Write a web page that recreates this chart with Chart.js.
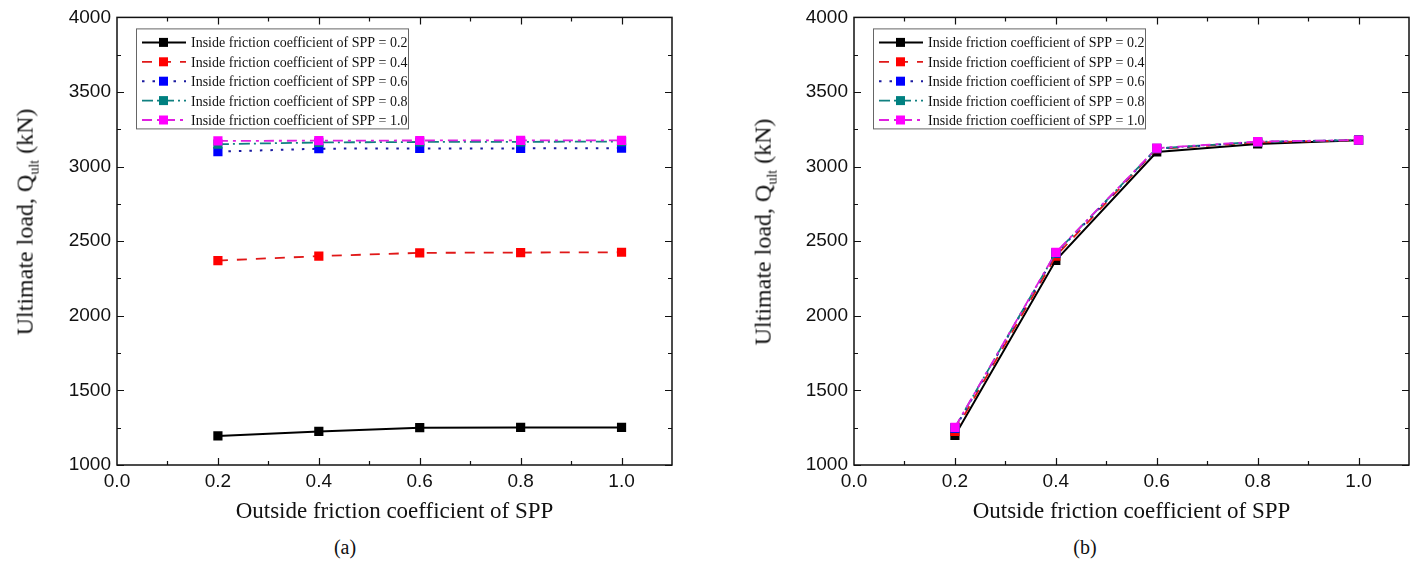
<!DOCTYPE html>
<html>
<head>
<meta charset="utf-8">
<script src="https://cdn.jsdelivr.net/npm/chart.js@4.4.1/dist/chart.umd.min.js"></script>
<style>
  body { margin: 0; background: #fff; width: 1416px; height: 588px; overflow: hidden; position: relative; }
  canvas { position: absolute; top: 0; }
  .ytitle { position: absolute; font-family: "Liberation Serif"; font-size: 24px; color: #111; white-space: nowrap;
            transform: translate(-50%, -50%) rotate(-90deg); }
  .ytitle sub { font-size: 14px; }
  .cap { position: absolute; top: 536px; font-family: "Liberation Serif"; font-size: 20px; color: #111; transform: translateX(-50%); }
</style>
</head>
<body>
<canvas id="chartA" width="700" height="530" style="left:0px"></canvas>
<canvas id="chartB" width="679" height="530" style="left:737px"></canvas>
<div class="ytitle" style="left:27px; top:222px">Ultimate load, Q<sub>ult</sub> (kN)</div>
<div class="ytitle" style="left:765px; top:232px">Ultimate load, Q<sub>ult</sub> (kN)</div>
<div class="cap" style="left:345px">(a)</div>
<div class="cap" style="left:1085px">(b)</div>
<script>
"use strict";

// x values (outside friction coefficient)
const outsideFric = [0.2, 0.4, 0.6, 0.8, 1.0];
const insideLabels = ["0.2", "0.4", "0.6", "0.8", "1.0"];

// chart (a): one series per inside friction coefficient
const loadA02 = [1195, 1225, 1250, 1252, 1252];
const loadA04 = [2370, 2400, 2422, 2424, 2426];
const loadA06 = [3100, 3120, 3122, 3122, 3124];
const loadA08 = [3150, 3162, 3165, 3166, 3168];
const loadA10 = [3172, 3174, 3175, 3176, 3176];

// chart (b)
const loadB02 = [1198, 2372, 3098, 3152, 3176];
const loadB04 = [1225, 2400, 3118, 3162, 3177];
const loadB06 = [1245, 2418, 3120, 3165, 3178];
const loadB08 = [1250, 2422, 3122, 3166, 3178];
const loadB10 = [1252, 2425, 3124, 3168, 3178];

// line looks
const seriesStyle = [
    { line: "#000000", mark: "#000000", dash: [], width: 2 },
    { line: "#e01818", mark: "#ff0000", dash: [10, 9], width: 1.8 },
    { line: "#1a1aa0", mark: "#0000ff", dash: [2.5, 8], width: 2 },
    { line: "#108080", mark: "#008080", dash: [11, 4, 2, 4], width: 1.8 },
    { line: "#e020e0", mark: "#ff00ff", dash: [10, 5, 3, 5], width: 1.8 }
];

function makeSets(rows) {
    return rows.map((vals, i) => {
        let s = seriesStyle[i];
        return {
            label: "Inside friction coefficient of SPP = " + insideLabels[i],
            data: vals.map((v, k) => ({ x: outsideFric[k], y: v })),
            borderColor: s.line,
            borderWidth: s.width,
            borderDash: s.dash,
            pointStyle: "rect",
            pointRadius: 6.5,
            pointBorderWidth: 0,
            pointBackgroundColor: s.mark,
            tension: 0,
            order: 5 - i
        };
    });
}

// frame with inward ticks on all sides
const frameTicks = {
    id: "frameTicks",
    afterDatasetsDraw(chart) {
        let ctx = chart.ctx;
        let ca = chart.chartArea;
        let xs = chart.scales.x;
        let ys = chart.scales.y;
        ctx.save();
        ctx.strokeStyle = "#111";
        ctx.lineWidth = 1.5;
        ctx.strokeRect(ca.left, ca.top, ca.right - ca.left, ca.bottom - ca.top);
        ctx.lineWidth = 1.2;
        ctx.beginPath();
        for (let v = 1000; v <= 4000; v += 250) {
            let y = Math.round(ys.getPixelForValue(v)) + 0.5;
            let len = v % 500 === 0 ? 7 : 4;
            ctx.moveTo(ca.left, y); ctx.lineTo(ca.left + len, y);
            ctx.moveTo(ca.right, y); ctx.lineTo(ca.right - len, y);
        }
        for (let k = 1; k <= 10; k++) {
            let x = Math.round(xs.getPixelForValue(k / 10)) + 0.5;
            let len = k % 2 === 0 ? 7 : 4;
            ctx.moveTo(x, ca.bottom); ctx.lineTo(x, ca.bottom - len);
            ctx.moveTo(x, ca.top); ctx.lineTo(x, ca.top + len);
        }
        ctx.stroke();
        ctx.restore();
    }
};

// legend box inside the plot
const boxLegend = {
    id: "boxLegend",
    afterDraw(chart) {
        let ctx = chart.ctx;
        let ca = chart.chartArea;
        let bx = ca.left + 19;
        let by = ca.top + 11;
        ctx.save();
        ctx.strokeStyle = "#666";
        ctx.lineWidth = 1;
        ctx.strokeRect(bx + 0.5, by + 0.5, 272, 100);
        ctx.font = "14px 'Liberation Serif'";
        ctx.textBaseline = "middle";
        chart.data.datasets.forEach((ds, i) => {
            let s = seriesStyle[i];
            let y = by + 14 + i * 19.4;
            ctx.strokeStyle = s.line;
            ctx.lineWidth = s.width;
            ctx.setLineDash(s.dash);
            ctx.beginPath();
            ctx.moveTo(bx + 6, y); ctx.lineTo(bx + 50, y);
            ctx.stroke();
            ctx.setLineDash([]);
            ctx.fillStyle = s.mark;
            ctx.fillRect(bx + 23, y - 4.5, 9, 9);
            ctx.fillStyle = "#111";
            ctx.save();
            ctx.translate(bx + 55, y + 1);
            ctx.scale(1, 1.08);
            ctx.fillText(ds.label, 0, 0);
            ctx.restore();
        });
        ctx.restore();
    }
};

function createChart(el, rows, rightPad) {
    return new Chart(el, {
        type: "line",
        data: { datasets: makeSets(rows) },
        options: {
            responsive: false,
            animation: false,
            layout: { padding: { top: 17, right: rightPad, left: 0, bottom: 0 } },
            plugins: { legend: { display: false }, tooltip: { enabled: false } },
            scales: {
                x: {
                    type: "linear",
                    min: 0, max: 1.1,
                    grid: { display: false, drawTicks: false },
                    border: { display: false },
                    ticks: {
                        stepSize: 0.2, includeBounds: false, padding: 5,
                        color: "#111", font: { family: "Liberation Sans", size: 19 },
                        callback: v => v.toFixed(1)
                    },
                    title: {
                        display: true, text: "Outside friction coefficient of SPP",
                        color: "#111", font: { family: "Liberation Serif", size: 23 }
                    },
                    afterFit: s => { s.height = 65; }
                },
                y: {
                    min: 1000, max: 4000,
                    grid: { display: false, drawTicks: false },
                    border: { display: false },
                    ticks: {
                        stepSize: 500, padding: 6,
                        color: "#111", font: { family: "Liberation Sans", size: 19 },
                        callback: v => String(v)
                    },
                    afterFit: s => { s.width = 117; }
                }
            }
        },
        plugins: [frameTicks, boxLegend]
    });
}

createChart(document.getElementById("chartA"), [loadA02, loadA04, loadA06, loadA08, loadA10], 28);
createChart(document.getElementById("chartB"), [loadB02, loadB04, loadB06, loadB08, loadB10], 7);
</script>
</body>
</html>
